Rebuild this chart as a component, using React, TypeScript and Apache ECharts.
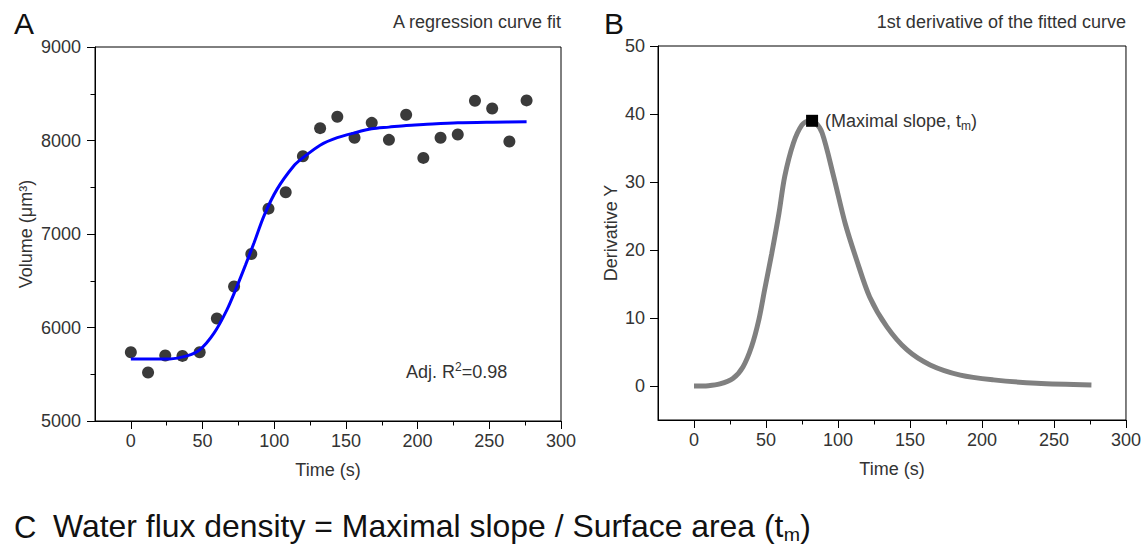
import React, { useEffect, useRef } from "react";
import * as echarts from "echarts";

// ---- Data ----
const times = [0, 12, 24, 36, 48, 60, 72, 84, 96, 108, 120, 132, 144, 156, 168, 180, 192, 204, 216, 228, 240, 252, 264, 276];
const volumes = [5736, 5518, 5700, 5696, 5736, 6096, 6439, 6786, 7271, 7446, 7832, 8132, 8254, 8029, 8189, 8007, 8275, 7814, 8029, 8064, 8425, 8343, 7989, 8429];

const fitTimes = [0, 27, 39, 48, 58, 67, 74, 80, 86, 93, 102, 114, 120, 132, 144, 156, 168, 180, 192, 204, 228, 252, 276];
const fitVolumes = [5664, 5664, 5696, 5761, 5940, 6189, 6439, 6670, 6910, 7200, 7480, 7735, 7815, 7950, 8030, 8082, 8125, 8143, 8161, 8171, 8189, 8196, 8200];

const derivTimes = [0, 10, 18, 27, 34, 40, 45, 49, 54, 59, 63, 69, 75, 80, 84, 89, 97, 105, 113, 122, 134, 148, 164, 185, 208, 238, 276];
const derivValues = [0, 0.05, 0.3, 1.1, 2.8, 5.8, 9.7, 14.1, 19.5, 25.4, 30.8, 35.7, 38.4, 39.0, 38.8, 37.2, 30.8, 23.9, 18.5, 13.1, 8.7, 5.3, 3.1, 1.6, 0.9, 0.4, 0.15];

const maxSlopePoint = [82, 39];

const xMajorTicks = [0, 50, 100, 150, 200, 250, 300];
const xMinorTicks = [25, 75, 125, 175, 225, 275];
const derivYTicks = [0, 10, 20, 30, 40, 50];

const FONT = "Liberation Sans, Arial, sans-serif";
const TXT = "#333";

export default function App() {
  const ref = useRef<HTMLDivElement>(null);

  useEffect(() => {
    if (!ref.current) return;
    const chart = echarts.init(ref.current, undefined, { renderer: "svg" });

    const axisLine = { show: true, onZero: false, lineStyle: { color: "#000", width: 1 } };
    const labelStyle = { color: TXT, fontSize: 18, fontFamily: FONT };
    const plain = (v: number) => String(v);

    const mainX = (grid: number) => ({
      type: "value",
      gridIndex: grid,
      min: -25,
      max: 300,
      interval: 25,
      axisLine,
      splitLine: { show: false },
      axisTick: { show: true, length: 8, customValues: xMajorTicks, lineStyle: { color: "#000" } },
      axisLabel: { ...labelStyle, margin: 11, customValues: xMajorTicks, formatter: plain },
      name: "Time (s)",
      nameLocation: "middle",
      nameGap: 40,
      nameTextStyle: { ...labelStyle },
    });
    const minorX = (grid: number) => ({
      type: "value",
      gridIndex: grid,
      min: -25,
      max: 300,
      interval: 25,
      position: "bottom",
      axisLine: { show: false, onZero: false },
      splitLine: { show: false },
      axisTick: { show: true, length: 4.5, customValues: xMinorTicks, lineStyle: { color: "#000" } },
      axisLabel: { show: false },
    });

    const option: any = {
      animation: false,
      backgroundColor: "#fff",
      textStyle: { fontFamily: FONT },
      grid: [
        { left: 95, top: 47, width: 466, height: 374, show: true, borderColor: "#000", borderWidth: 1, backgroundColor: "transparent" },
        { left: 658, top: 46, width: 468, height: 374, show: true, borderColor: "#000", borderWidth: 1, backgroundColor: "transparent" },
      ],
      xAxis: [mainX(0), minorX(0), mainX(1), minorX(1)],
      yAxis: [
        {
          type: "value",
          gridIndex: 0,
          min: 5000,
          max: 9000,
          interval: 1000,
          axisLine,
          splitLine: { show: false },
          axisTick: { show: true, length: 8, lineStyle: { color: "#000" } },
          minorTick: { show: true, splitNumber: 2, length: 4.5, lineStyle: { color: "#000" } },
          axisLabel: { ...labelStyle, margin: 14, formatter: plain },
          name: "Volume (μm³)",
          nameLocation: "middle",
          nameGap: 60,
          nameTextStyle: { ...labelStyle },
        },
        {
          type: "value",
          gridIndex: 1,
          min: -5,
          max: 50,
          interval: 5,
          axisLine,
          splitLine: { show: false },
          axisTick: { show: true, length: 8, customValues: derivYTicks, lineStyle: { color: "#000" } },
          axisLabel: { ...labelStyle, margin: 13, customValues: derivYTicks, formatter: plain },
          name: "Derivative Y",
          nameLocation: "middle",
          nameGap: 38,
          nameTextStyle: { ...labelStyle },
        },
      ],
      series: [
        {
          type: "scatter",
          xAxisIndex: 0,
          yAxisIndex: 0,
          data: times.map((t, i) => [t, volumes[i]]),
          symbol: "circle",
          symbolSize: 12,
          itemStyle: { color: "#3a3a3a", opacity: 1 },
          z: 2,
        },
        {
          type: "line",
          xAxisIndex: 0,
          yAxisIndex: 0,
          data: fitTimes.map((t, i) => [t, fitVolumes[i]]),
          smooth: 0.3,
          showSymbol: false,
          lineStyle: { color: "#0000ff", width: 3 },
          z: 3,
        },
        {
          type: "line",
          xAxisIndex: 2,
          yAxisIndex: 1,
          data: derivTimes.map((t, i) => [t, derivValues[i]]),
          smooth: 0.3,
          showSymbol: false,
          lineStyle: { color: "#808080", width: 5 },
          z: 2,
        },
        {
          type: "scatter",
          xAxisIndex: 2,
          yAxisIndex: 1,
          data: [maxSlopePoint],
          symbol: "rect",
          symbolSize: 12,
          itemStyle: { color: "#000", opacity: 1 },
          z: 4,
          label: {
            show: true,
            position: "right",
            distance: 7,
            formatter: "(Maximal slope, t{sub|m})",
            color: TXT,
            fontSize: 18,
            fontFamily: FONT,
            rich: {
              sub: { fontSize: 12, color: TXT, fontFamily: FONT, padding: [10, 0, 0, 0] },
            },
          },
        },
      ],
      graphic: [
        { type: "text", left: 14, top: 8, style: { text: "A", fontSize: 30, fontFamily: FONT, fill: "#111" } },
        { type: "text", left: 604, top: 8, style: { text: "B", fontSize: 30, fontFamily: FONT, fill: "#111" } },
        { type: "text", x: 561, y: 22, style: { text: "A regression curve fit", fontSize: 18, fontFamily: FONT, fill: TXT, align: "right", verticalAlign: "middle" } },
        { type: "text", x: 1126, y: 22, style: { text: "1st derivative of the fitted curve", fontSize: 18, fontFamily: FONT, fill: TXT, align: "right", verticalAlign: "middle" } },
        {
          type: "text",
          x: 406,
          y: 372,
          style: {
            text: "Adj. R{sup|2}=0.98",
            fontSize: 18,
            fontFamily: FONT,
            fill: TXT,
            verticalAlign: "middle",
            rich: { sup: { fontSize: 12, fill: TXT, fontFamily: FONT, padding: [0, 0, 10, 0] } },
          },
        },
        { type: "text", x: 14, y: 527, style: { text: "C", fontSize: 31, fontFamily: FONT, fill: "#111", verticalAlign: "middle" } },
        {
          type: "text",
          x: 53,
          y: 527,
          scaleX: 1.03,
          style: {
            text: "Water flux density = Maximal slope / Surface area (t{sub|m})",
            fontSize: 31,
            fontFamily: FONT,
            fill: "#111",
            verticalAlign: "middle",
            rich: { sub: { fontSize: 19, fill: "#111", fontFamily: FONT, padding: [16, 0, 0, 0] } },
          },
        },
      ],
    };

    chart.setOption(option);
    return () => chart.dispose();
  }, []);

  return <div ref={ref} style={{ position: "absolute", left: 0, top: 0, width: 1144, height: 546 }} />;
}
